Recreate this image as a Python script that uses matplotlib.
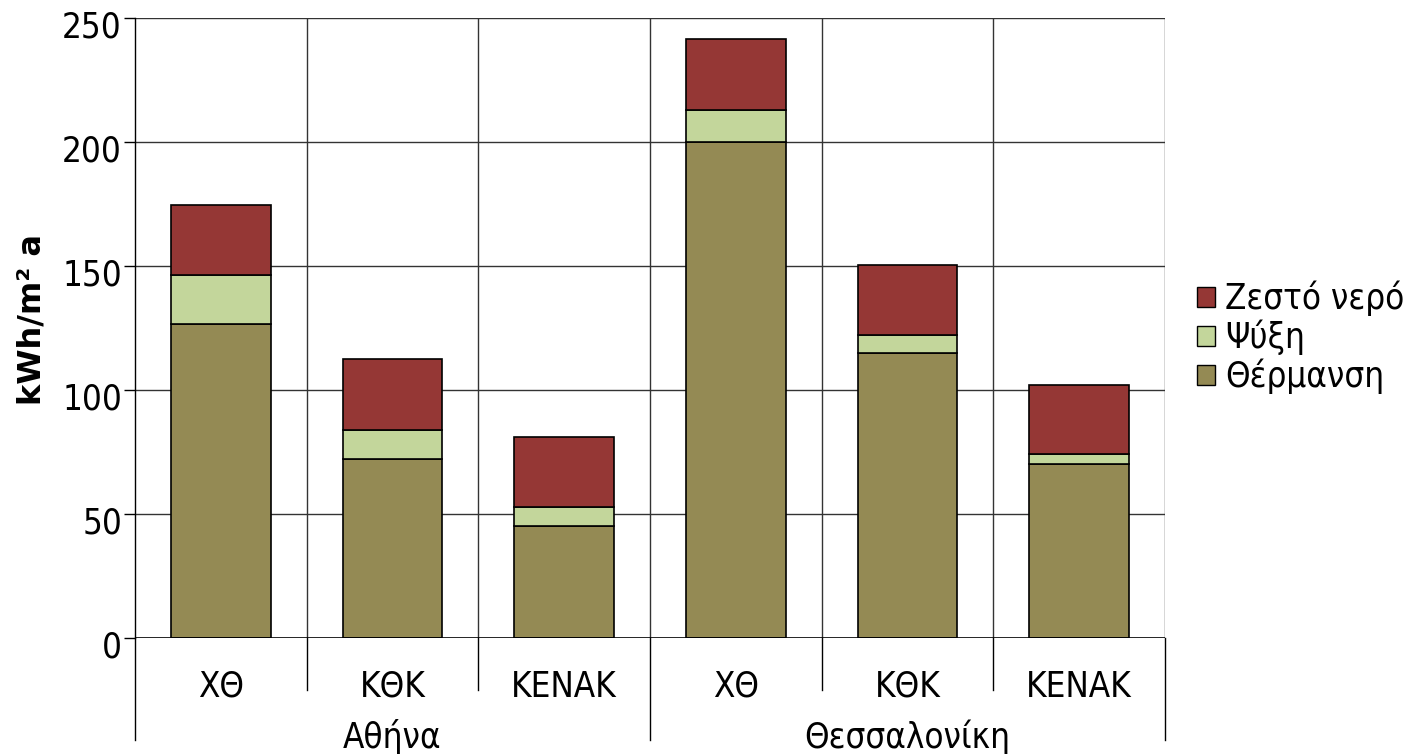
import matplotlib
matplotlib.use("Agg")
import matplotlib.pyplot as plt
import matplotlib.transforms as mtransforms
from matplotlib.patches import Patch
from matplotlib import font_manager
import numpy as np

# data
categories = ['ΧΘ', 'ΚΘΚ', 'ΚΕΝΑΚ', 'ΧΘ', 'ΚΘΚ', 'ΚΕΝΑΚ']
groups = ['Αθήνα', 'Θεσσαλονίκη']
heating = [126.5, 72, 45, 200, 115, 70]
cooling = [20, 12, 8, 13, 7, 4]
hot_water = [28, 28.5, 28, 28.5, 28.5, 28]
yticks = [0, 50, 100, 150, 200, 250]

col_heat = '#948A54'
col_cool = '#C3D69B'
col_hot = '#953735'

plt.rcParams['font.family'] = ['DejaVu Sans']
cond = font_manager.FontProperties(family='DejaVu Sans', stretch='condensed', size=25)

fig = plt.figure(figsize=(14.12, 7.54), dpi=100)
ax = fig.add_axes([135 / 1412, 116 / 754, 1030 / 1412, 620 / 754])

x = np.arange(len(categories)) + 0.5
w = 0.58
heating = np.array(heating)
cooling = np.array(cooling)
hot_water = np.array(hot_water)
ax.bar(x, heating, w, color=col_heat, edgecolor='black', linewidth=1.2, zorder=3)
ax.bar(x, cooling, w, bottom=heating, color=col_cool, edgecolor='black', linewidth=1.2, zorder=3)
ax.bar(x, hot_water, w, bottom=heating + cooling, color=col_hot, edgecolor='black', linewidth=1.2, zorder=3)

ax.set_xlim(0, 6)
ax.set_ylim(0, 250)
ax.set_yticks(yticks)
ax.set_yticklabels([])
ax.tick_params(axis='y', length=8, width=1)
# tick labels sit a little below their tick, as in the original
ytrans = mtransforms.blended_transform_factory(ax.transAxes, ax.transData)
shift = mtransforms.ScaledTranslation(-13 / 100, -10 / 100, fig.dpi_scale_trans)
for yv in yticks:
    ax.text(0, yv, str(yv), transform=ytrans + shift, ha='right', va='center',
            fontproperties=cond)
ax.set_xticks([])
for s in ['top', 'right', 'bottom']:
    ax.spines[s].set_visible(False)
ax.spines['left'].set_linewidth(1)

# grid lines
for yv in yticks[1:]:
    ax.axhline(yv, color='#333333', linewidth=1, zorder=1)
ax.axhline(0, color='black', linewidth=1.2, zorder=4)
for xv in range(1, 7):
    ax.axvline(xv, color='#333333', linewidth=1, zorder=1)

# category separator lines below axis
trans = mtransforms.blended_transform_factory(ax.transData, ax.transAxes)
for xv in range(0, 7):
    end = -0.1645 if xv in (0, 3, 6) else -0.0839
    ax.plot([xv, xv], [0, end], color='black', linewidth=1, transform=trans, clip_on=False)

for xi, lab in zip(x, categories):
    ax.text(xi, -0.079, lab, transform=trans, ha='center', va='center',
            fontproperties=cond)
for gi, g in enumerate(groups):
    ax.text(1.5 + 3 * gi, -0.16, g, transform=trans, ha='center', va='center',
            fontproperties=cond)

ax.set_ylabel('kWh/m² a', fontsize=23, fontweight='bold')
ax.yaxis.set_label_coords(-0.085, 0.513)

handles = [Patch(facecolor=col_hot, edgecolor='black', label='Ζεστό νερό'),
           Patch(facecolor=col_cool, edgecolor='black', label='Ψύξη'),
           Patch(facecolor=col_heat, edgecolor='black', label='Θέρμανση')]
leg = ax.legend(handles=handles, loc='center left', bbox_to_anchor=(1.018, 0.485), frameon=False,
                prop=cond, handlelength=0.5, handleheight=0.5, handletextpad=0.3,
                labelspacing=0.1, borderaxespad=0)

fig.savefig('out.png', dpi=100)
